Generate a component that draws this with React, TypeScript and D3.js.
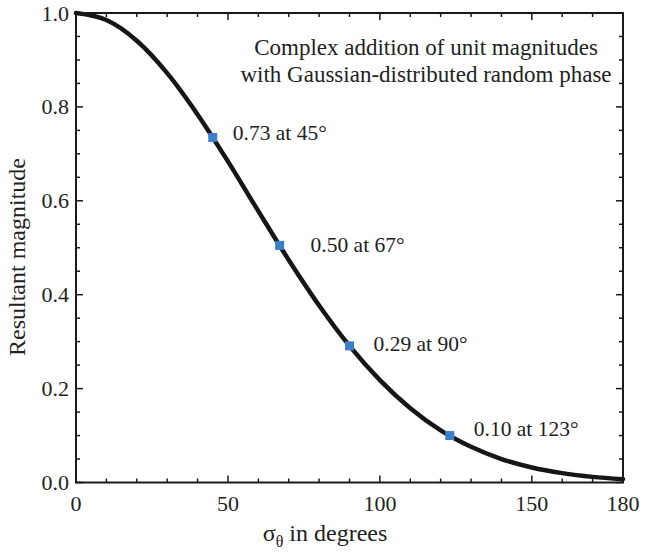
import React from "react";
import * as d3 from "d3";

const curveDeg = [0, 10, 20, 30, 40, 50, 60, 70, 80, 90, 100, 110, 120, 130, 140, 150, 160, 170, 180];
const curveMag = [1.0, 0.985, 0.941, 0.872, 0.784, 0.684, 0.578, 0.474, 0.377, 0.291, 0.218, 0.158, 0.111, 0.076, 0.05, 0.032, 0.02, 0.012, 0.007];

const markDeg = [45, 67, 90, 123];
const markMag = [0.735, 0.505, 0.291, 0.1];
const markLabels = ["0.73 at 45°", "0.50 at 67°", "0.29 at 90°", "0.10 at 123°"];

const xMajor = [0, 50, 100, 150, 180];
const yMajor = [0, 0.2, 0.4, 0.6, 0.8, 1.0];

const W = 645, H = 556;
const L = 76, R = 623, T = 13, B = 482.5;
const FONT = "'Liberation Serif', 'Times New Roman', serif";

export default function App() {
  const x = d3.scaleLinear().domain([0, 180]).range([L, R]);
  const y = d3.scaleLinear().domain([0, 1]).range([B, T]);
  const pts = curveDeg.map((d, i) => [d, curveMag[i]] as [number, number]);
  const line = d3.line<[number, number]>().x(d => x(d[0])).y(d => y(d[1])).curve(d3.curveMonotoneX);
  const xMinor = d3.range(0, 181, 10).filter(v => v % 50 !== 0 && v !== 180);
  const yMinor = d3.range(0, 21).map(i => i * 0.05).filter(v => Math.round(v * 100) % 20 !== 0);
  const offs = [[20, -5], [31, -1], [24, -2], [24, -7]];
  const ax = "#1a1a1a";
  return (
    <svg width={W} height={H} style={{ position: "absolute", left: 0, top: 0, background: "#fff" }} fontFamily={FONT}>
      <path d={line(pts) || ""} fill="none" stroke="#161616" strokeWidth={4.5} strokeLinecap="round" />
      <rect x={L} y={T} width={R - L} height={B - T} fill="none" stroke={ax} strokeWidth={2} />
      {xMajor.map(v => (
        <g key={"xm" + v}>
          <line x1={x(v)} x2={x(v)} y1={B} y2={B - 7} stroke={ax} strokeWidth={1.5} />
          <line x1={x(v)} x2={x(v)} y1={T} y2={T + 7} stroke={ax} strokeWidth={1.5} />
          <text x={x(v)} y={B + 28} textAnchor="middle" fontSize={22} fill="#222">{v}</text>
        </g>
      ))}
      {xMinor.map(v => (
        <g key={"xn" + v}>
          <line x1={x(v)} x2={x(v)} y1={B} y2={B - 4} stroke={ax} strokeWidth={1.5} />
          <line x1={x(v)} x2={x(v)} y1={T} y2={T + 4} stroke={ax} strokeWidth={1.5} />
        </g>
      ))}
      {yMajor.map(v => (
        <g key={"ym" + v}>
          <line x1={L} x2={L + 7} y1={y(v)} y2={y(v)} stroke={ax} strokeWidth={1.5} />
          <line x1={R} x2={R - 7} y1={y(v)} y2={y(v)} stroke={ax} strokeWidth={1.5} />
          <text x={L - 7} y={y(v) + 7.5} textAnchor="end" fontSize={22} fill="#222">{v.toFixed(1)}</text>
        </g>
      ))}
      {yMinor.map(v => (
        <g key={"yn" + v}>
          <line x1={L} x2={L + 4} y1={y(v)} y2={y(v)} stroke={ax} strokeWidth={1.5} />
          <line x1={R} x2={R - 4} y1={y(v)} y2={y(v)} stroke={ax} strokeWidth={1.5} />
        </g>
      ))}
      {markDeg.map((d, i) => (
        <g key={"mk" + d}>
          <rect x={x(d) - 4.5} y={y(markMag[i]) - 4.5} width={9} height={9} fill="#3b7fcc" />
          <text x={x(d) + offs[i][0]} y={y(markMag[i]) + offs[i][1] + 7.5} fontSize={21.5} fill="#222">{markLabels[i]}</text>
        </g>
      ))}
      <text x={426} y={55} textAnchor="middle" fontSize={23} fill="#222">Complex addition of unit magnitudes</text>
      <text x={426} y={82} textAnchor="middle" fontSize={23} fill="#222">with Gaussian-distributed random phase</text>
      <text x={325} y={541} textAnchor="middle" fontSize={24} fill="#222">
        σ<tspan fontSize={16} dy={6}>θ</tspan><tspan dy={-6}> in degrees</tspan>
      </text>
      <text transform={`translate(25,257) rotate(-90)`} textAnchor="middle" fontSize={24} fill="#222">Resultant magnitude</text>
    </svg>
  );
}
